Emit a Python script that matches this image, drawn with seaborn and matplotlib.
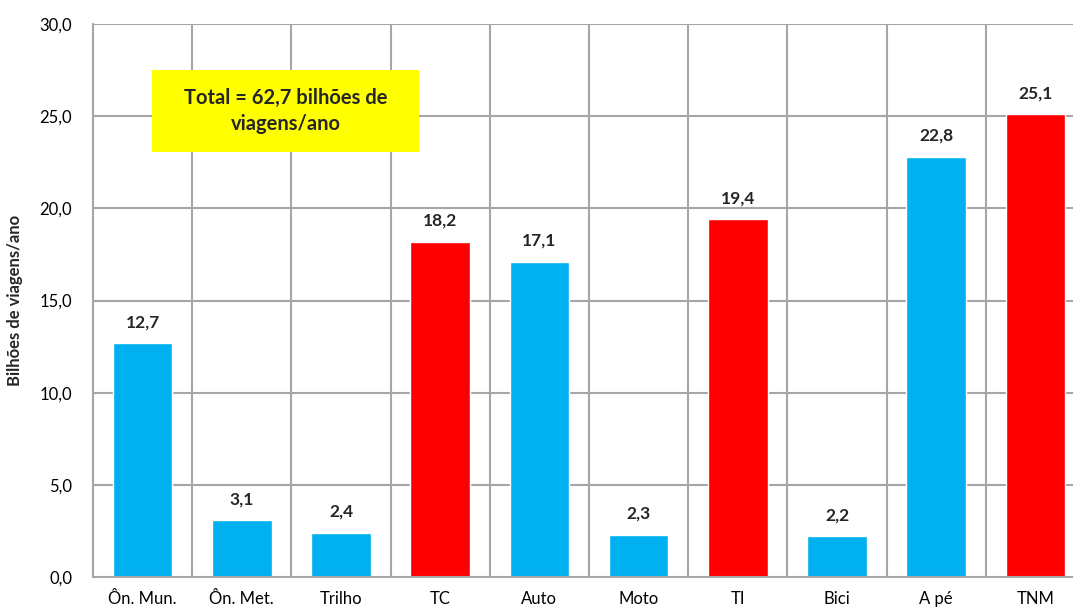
import matplotlib.pyplot as plt
import matplotlib.patches as mpatches
import numpy as np
import pandas as pd
import seaborn as sns

categories = ["Ôn. Mun.", "Ôn. Met.", "Trilho", "TC", "Auto", "Moto", "TI", "Bici", "A pé", "TNM"]
values = [12.7, 3.1, 2.4, 18.2, 17.1, 2.3, 19.4, 2.2, 22.8, 25.1]
is_total = [False, False, False, True, False, False, True, False, False, True]

CYAN = "#00B0F0"
RED = "#FF0000"
GRID = "#A6A6A6"

sns.set_theme(style="white")
plt.rcParams["font.family"] = ["Lato", "DejaVu Sans"]

df = pd.DataFrame({"cat": categories, "val": values})
palette = {c: (RED if t else CYAN) for c, t in zip(categories, is_total)}

fig = plt.figure(figsize=(10.73, 6.12), dpi=100)
ax = fig.add_axes([93 / 1073, 35 / 612, 992 / 1073, 553 / 612])

sns.barplot(data=df, x="cat", y="val", hue="cat", palette=palette, width=0.6,
            legend=False, ax=ax, zorder=3, saturation=1)

ax.set_xlim(-0.5, len(categories) - 0.5)
ax.set_ylim(0, 30)
ax.set_yticks(np.arange(0, 30.1, 5))
ax.set_yticklabels([f"{v:.1f}".replace(".", ",") for v in np.arange(0, 30.1, 5)])

# grid: horizontal at ticks, vertical at category boundaries
for yv in np.arange(5, 30.1, 5):
    ax.axhline(yv, color=GRID, lw=1.5, zorder=1)
for xv in np.arange(0.5, len(categories), 1):
    ax.axvline(xv, color=GRID, lw=1.5, zorder=1)

for side in ["top", "right"]:
    ax.spines[side].set_visible(False)
for side in ["left", "bottom"]:
    ax.spines[side].set_color(GRID)
    ax.spines[side].set_linewidth(1.5)
    ax.spines[side].set_zorder(4)

ax.tick_params(axis="both", length=0, labelsize=12, colors="black")
ax.tick_params(axis="x", pad=10)
ax.tick_params(axis="y", pad=15)
ax.set_xlabel("")
ax.set_ylabel("Bilhões de viagens/ano", fontsize=12, fontweight="bold", labelpad=12)

for i, v in enumerate(values):
    ax.annotate(f"{v:.1f}".replace(".", ","), (i, v), xytext=(0, 15),
                textcoords="offset points", ha="center", va="center",
                fontsize=12.5, fontweight="bold", zorder=5)

# yellow total box
box = mpatches.Rectangle((0.095, 23.06), 2.69, 4.45, facecolor="#FFFF00",
                         edgecolor="none", zorder=5)
ax.add_patch(box)
ax.text(1.44, 25.28, "Total = 62,7 bilhões de\nviagens/ano", ha="center", va="center",
        fontsize=14.5, fontweight="bold", linespacing=1.35, zorder=6)

fig.savefig("out.png", dpi=100)
